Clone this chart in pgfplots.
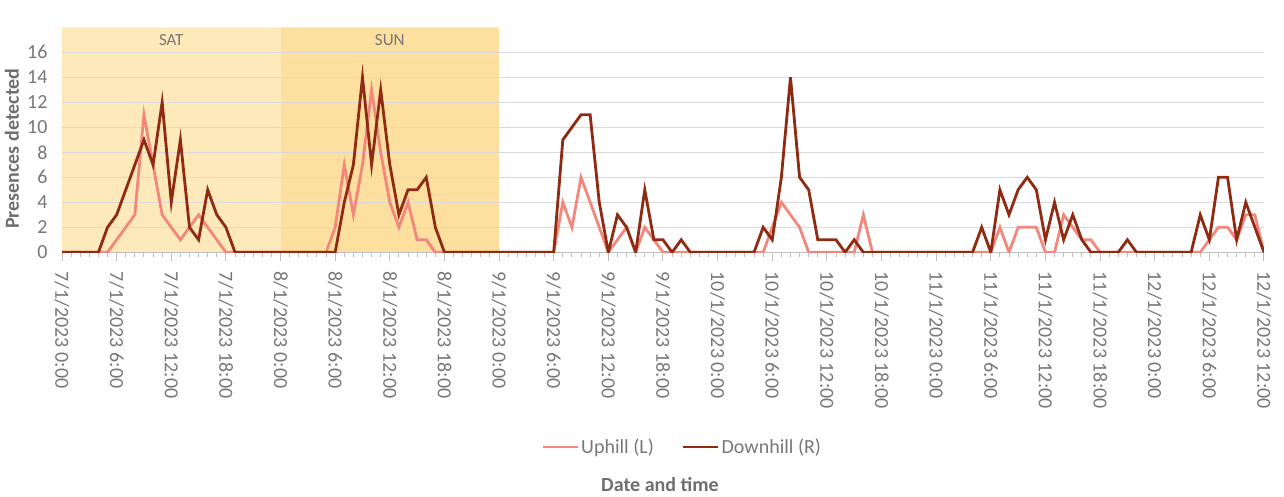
\documentclass[border=0pt]{standalone}
\usepackage{pgfplots}
\pgfplotsset{compat=1.18}
\usepackage{pgfplotstable}
\usepackage{fontspec}
\setmainfont{Carlito}
\definecolor{satfill}{HTML}{FEE9BA}
\definecolor{sunfill}{HTML}{FDDF9F}
\definecolor{gridgray}{HTML}{D9D9D9}
\definecolor{axgray}{HTML}{BFBFBF}
\definecolor{labgray}{HTML}{7A7676}
\definecolor{titlegray}{HTML}{6E6E6E}
\definecolor{uphill}{HTML}{F2877D}
\definecolor{downhill}{HTML}{8E2B12}
\pgfplotsset{/pgfplots/legend image code/.code={\draw[#1] (0pt,0pt) -- (35pt,0pt);}}

\pgfplotstableread{
h U D
0 0 0
1 0 0
2 0 0
3 0 0
4 0 0
5 0 2
6 1 3
7 2 5
8 3 7
9 11 9
10 7 7
11 3 12
12 2 4
13 1 9
14 2 2
15 3 1
16 2 5
17 1 3
18 0 2
19 0 0
20 0 0
21 0 0
22 0 0
23 0 0
24 0 0
25 0 0
26 0 0
27 0 0
28 0 0
29 0 0
30 2 0
31 7 4
32 3 7
33 7 14
34 13 7
35 8 13
36 4 7
37 2 3
38 4 5
39 1 5
40 1 6
41 0 2
42 0 0
43 0 0
44 0 0
45 0 0
46 0 0
47 0 0
48 0 0
49 0 0
50 0 0
51 0 0
52 0 0
53 0 0
54 0 0
55 4 9
56 2 10
57 6 11
58 4 11
59 2 4
60 0 0
61 1 3
62 2 2
63 0 0
64 2 5
65 1 1
66 0 1
67 0 0
68 0 1
69 0 0
70 0 0
71 0 0
72 0 0
73 0 0
74 0 0
75 0 0
76 0 0
77 0 2
78 2 1
79 4 6
80 3 14
81 2 6
82 0 5
83 0 1
84 0 1
85 0 1
86 0 0
87 0 1
88 3 0
89 0 0
90 0 0
91 0 0
92 0 0
93 0 0
94 0 0
95 0 0
96 0 0
97 0 0
98 0 0
99 0 0
100 0 0
101 0 2
102 0 0
103 2 5
104 0 3
105 2 5
106 2 6
107 2 5
108 0 1
109 0 4
110 3 1
111 2 3
112 1 1
113 1 0
114 0 0
115 0 0
116 0 0
117 0 1
118 0 0
119 0 0
120 0 0
121 0 0
122 0 0
123 0 0
124 0 0
125 0 3
126 1 1
127 2 6
128 2 6
129 1 1
130 3 4
131 3 2
132 0 0
}\datatable

\begin{document}
\begin{tikzpicture}
\begin{axis}[
  at={(62pt,244.7pt)}, anchor=south west,
  set layers,
  scale only axis,
  width=1202pt, height=225pt,
  xmin=0, xmax=132, ymin=0, ymax=18,
  axis lines*=left,
  y axis line style={draw=none},
  x axis line style={axgray, line width=1pt},
  xtick={0,6,...,132},
  minor x tick num=5,
  tick align=outside,
  x tick style={axgray, line width=1pt},
  major tick length=9pt,
  minor tick length=5pt,
  ytick={0,2,...,16},
  y tick style={draw=none},
  ymajorgrids,
  grid style={gridgray, line width=1pt},
  /pgf/number format/assume math mode=true,
  tick label style={font=\fontsize{20}{24}\selectfont, text=labgray},
  xticklabels={7/1/2023 0:00,7/1/2023 6:00,7/1/2023 12:00,7/1/2023 18:00,
    8/1/2023 0:00,8/1/2023 6:00,8/1/2023 12:00,8/1/2023 18:00,
    9/1/2023 0:00,9/1/2023 6:00,9/1/2023 12:00,9/1/2023 18:00,
    10/1/2023 0:00,10/1/2023 6:00,10/1/2023 12:00,10/1/2023 18:00,
    11/1/2023 0:00,11/1/2023 6:00,11/1/2023 12:00,11/1/2023 18:00,
    12/1/2023 0:00,12/1/2023 6:00,12/1/2023 12:00},
  xticklabel style={rotate=-90, anchor=west},
  xticklabel shift=7pt,
  yticklabel style={xshift=-2pt},
  xlabel={Date and time},
  ylabel={Presences detected},
  label style={font=\bfseries\fontsize{20}{24}\selectfont, text=titlegray},
  xlabel style={at={(axis description cs:0.4975,-1.034)}, anchor=center},
  ylabel style={at={(axis description cs:-0.0416,0.461)}, anchor=center},
  legend style={at={(axis description cs:0.516,-0.865)}, anchor=center,
    draw=none, fill=none, legend columns=2,
    font=\fontsize{20}{24}\selectfont, text=labgray,
    /tikz/every even column/.append style={column sep=26pt}},
  legend cell align=left,
]
\addplot[on layer=axis background, draw=none, fill=satfill, forget plot] coordinates {(0,0) (0,18) (24,18) (24,0)} \closedcycle;
\addplot[on layer=axis background, draw=none, fill=sunfill, forget plot] coordinates {(24,0) (24,18) (48,18) (48,0)} \closedcycle;
\node[font=\fontsize{17}{20}\selectfont, text=labgray] at (axis cs:12,17) {SAT};
\node[font=\fontsize{17}{20}\selectfont, text=labgray] at (axis cs:36,17) {SUN};
\addplot[uphill, line width=2.8pt] table[x=h, y=U] {\datatable};
\addlegendentry{Uphill (L)}
\addplot[downhill, line width=2.8pt] table[x=h, y=D] {\datatable};
\addlegendentry{Downhill (R)}
\end{axis}
\pgfresetboundingbox
\path[use as bounding box] (0pt,0pt) rectangle (1284pt,497pt);
\end{tikzpicture}
\end{document}
